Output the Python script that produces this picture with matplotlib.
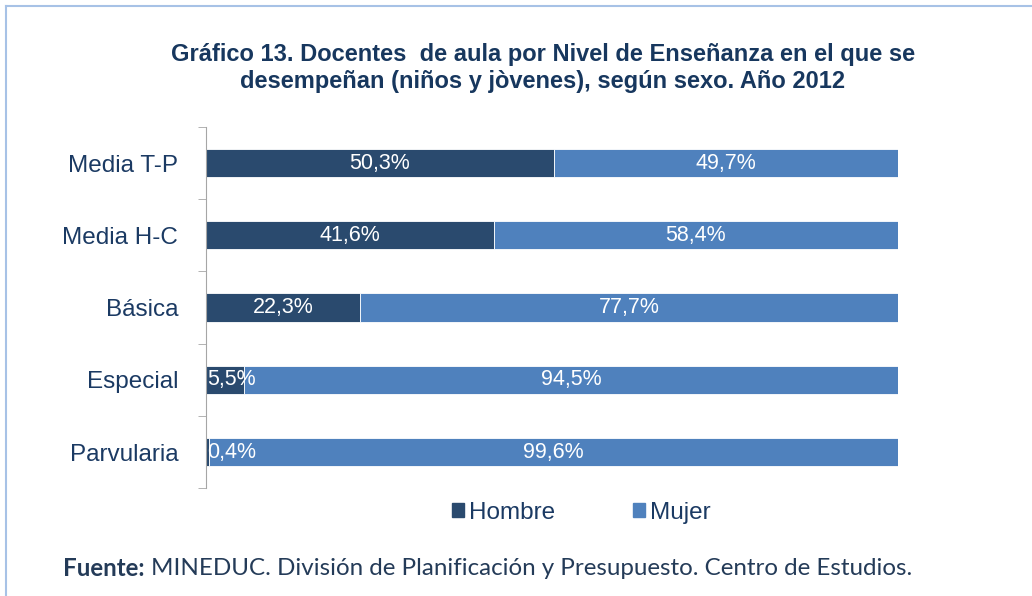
import matplotlib.pyplot as plt
from matplotlib.lines import Line2D
from matplotlib.patches import Patch

niveles = ["Media T-P", "Media H-C", "Básica", "Especial", "Parvularia"]
hombre = [50.3, 41.6, 22.3, 5.5, 0.4]
mujer = [49.7, 58.4, 77.7, 94.5, 99.6]

c_hombre = "#2A4A6E"
c_mujer = "#4F81BD"
navy = "#1B3A63"

plt.rcParams["font.family"] = ["Liberation Sans", "DejaVu Sans"]

fig = plt.figure(figsize=(10.32, 5.96), dpi=100)
ax = fig.add_axes([0.1996, 0.181, 0.6705, 0.606])

y = list(range(len(niveles)))
ax.barh(y, hombre, height=0.39, color=c_hombre, edgecolor="white", linewidth=0.6)
ax.barh(y, mujer, left=hombre, height=0.39, color=c_mujer, edgecolor="white", linewidth=0.6)

for i in y:
    xh = max(hombre[i] / 2, 3.7)
    ax.text(xh, i, f"{hombre[i]:.1f}%".replace(".", ","), ha="center", va="center",
            color="white", fontsize=15.5)
    xm = hombre[i] + mujer[i] / 2
    ax.text(xm, i, f"{mujer[i]:.1f}%".replace(".", ","), ha="center", va="center",
            color="white", fontsize=15.5)

ax.set_xlim(0, 100)
ax.set_ylim(len(niveles) - 0.5, -0.5)
ax.set_yticks(y)
ax.set_yticklabels(niveles, fontsize=17.5, color=navy)
ax.set_yticks([i - 0.5 for i in range(len(niveles) + 1)], minor=True)
ax.tick_params(axis="y", which="major", length=0, pad=20)
ax.tick_params(axis="y", which="minor", length=6, color="#A6A6A6", direction="out")
ax.set_xticks([])
for s in ["top", "right", "bottom"]:
    ax.spines[s].set_visible(False)
ax.spines["left"].set_color("#A6A6A6")

fig.text(0.526, 0.886, "Gráfico 13. Docentes  de aula por Nivel de Enseñanza en el que se\n"
         "desempeñan (niños y jòvenes), según sexo. Año 2012",
         ha="center", va="center", fontsize=17, fontweight="bold", color="#17375E",
         linespacing=1.2)

handles = [Patch(color=c_hombre, label="Hombre"), Patch(color=c_mujer, label="Mujer")]
fig.legend(handles=handles, loc="center", bbox_to_anchor=(0.563, 0.14), ncol=2,
           frameon=False, fontsize=17.5, handlelength=0.5, handleheight=0.5,
           handletextpad=0.2, columnspacing=3.2, labelcolor=navy)

t1 = fig.text(0.061, 0.046, "Fuente:", fontsize=17.4, fontweight="bold", color="#243B58",
              family=["Lato", "DejaVu Sans"], va="center")
ax.annotate("MINEDUC. División de Planificación y Presupuesto. Centro de Estudios.",
            xy=(1, 0.5), xycoords=t1, xytext=(5, 0), textcoords="offset points",
            va="center", ha="left", fontsize=17.4, color="#243B58",
            family=["Lato", "DejaVu Sans"], annotation_clip=False)

# marco azul claro (arriba e izquierda)
fig.add_artist(Line2D([0.006, 0.006], [0, 0.99], transform=fig.transFigure,
                      color="#A7C2E6", linewidth=1.5))
fig.add_artist(Line2D([0.006, 1], [0.99, 0.99], transform=fig.transFigure,
                      color="#A7C2E6", linewidth=1.5))

fig.savefig("out.png", dpi=100)
